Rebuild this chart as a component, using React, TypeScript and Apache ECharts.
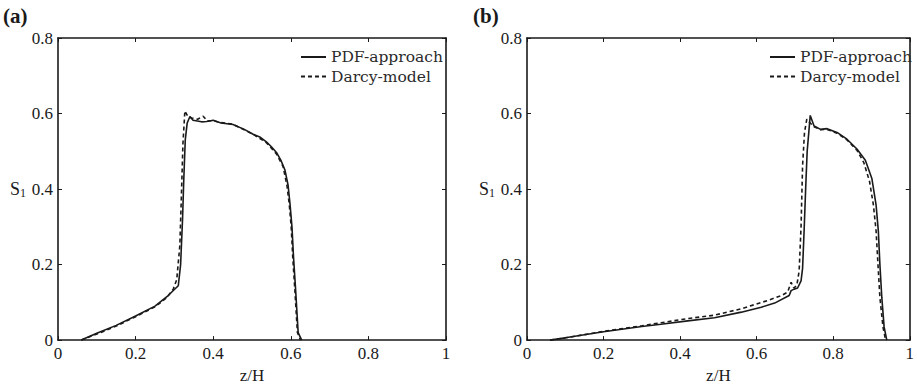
import React, { useEffect, useRef } from "react";
import * as echarts from "echarts";

// Panel (a)
const aPdfX = [0.06, 0.10, 0.15, 0.20, 0.25, 0.284, 0.31, 0.316, 0.321, 0.324, 0.328, 0.333, 0.34, 0.348, 0.37, 0.383, 0.40, 0.42, 0.451, 0.48, 0.503, 0.52, 0.537, 0.55, 0.563, 0.575, 0.585, 0.593, 0.598, 0.603, 0.607, 0.612, 0.619, 0.628];
const aPdfY = [0, 0.018, 0.039, 0.064, 0.09, 0.118, 0.144, 0.2, 0.32, 0.42, 0.53, 0.575, 0.592, 0.582, 0.578, 0.579, 0.582, 0.575, 0.571, 0.558, 0.545, 0.538, 0.525, 0.512, 0.497, 0.475, 0.45, 0.41, 0.36, 0.3, 0.22, 0.14, 0.02, 0];
const aDarcyX = [0.06, 0.10, 0.15, 0.20, 0.25, 0.28, 0.297, 0.306, 0.314, 0.318, 0.322, 0.327, 0.335, 0.345, 0.36, 0.374, 0.385, 0.40, 0.42, 0.45, 0.48, 0.503, 0.537, 0.563, 0.58, 0.59, 0.596, 0.601, 0.605, 0.61, 0.617, 0.625];
const aDarcyY = [0, 0.016, 0.037, 0.062, 0.088, 0.112, 0.135, 0.16, 0.25, 0.38, 0.52, 0.607, 0.592, 0.588, 0.585, 0.593, 0.58, 0.581, 0.576, 0.572, 0.557, 0.545, 0.523, 0.493, 0.46, 0.41, 0.36, 0.3, 0.22, 0.14, 0.02, 0];

// Panel (b)
const bPdfX = [0.06, 0.10, 0.20, 0.30, 0.35, 0.42, 0.49, 0.56, 0.612, 0.647, 0.685, 0.69, 0.698, 0.707, 0.716, 0.72, 0.724, 0.728, 0.732, 0.74, 0.75, 0.767, 0.784, 0.81, 0.836, 0.862, 0.884, 0.901, 0.912, 0.918, 0.922, 0.927, 0.933, 0.94];
const bPdfY = [0, 0.006, 0.022, 0.036, 0.042, 0.051, 0.059, 0.074, 0.087, 0.098, 0.118, 0.131, 0.135, 0.138, 0.157, 0.19, 0.29, 0.4, 0.5, 0.595, 0.567, 0.558, 0.56, 0.55, 0.532, 0.506, 0.476, 0.428, 0.358, 0.288, 0.2, 0.113, 0.035, 0];
const bDarcyX = [0.06, 0.10, 0.20, 0.30, 0.35, 0.42, 0.49, 0.56, 0.629, 0.665, 0.681, 0.69, 0.697, 0.705, 0.711, 0.716, 0.72, 0.725, 0.731, 0.74, 0.75, 0.767, 0.784, 0.81, 0.836, 0.862, 0.88, 0.895, 0.905, 0.912, 0.917, 0.922, 0.93, 0.937];
const bDarcyY = [0, 0.006, 0.023, 0.038, 0.046, 0.057, 0.066, 0.083, 0.105, 0.118, 0.127, 0.153, 0.138, 0.145, 0.183, 0.3, 0.462, 0.55, 0.585, 0.575, 0.565, 0.557, 0.558, 0.548, 0.53, 0.503, 0.47, 0.42, 0.358, 0.29, 0.2, 0.113, 0.035, 0];

const seriesNames = ["PDF-approach", "Darcy-model"];
const panelLabels = ["(a)", "(b)"];
const xAxisTitle = "z/H";

const zip = (xs: number[], ys: number[]) => xs.map((x, i) => [x, ys[i]]);

const SERIF = "'Liberation Serif', 'Times New Roman', serif";
const LEG_FONT = "'DejaVu Serif', serif";
const INK = "#1a1a1a";

export default function App() {
  const ref = useRef<HTMLDivElement>(null);
  useEffect(() => {
    const chart = echarts.init(ref.current!, null, { renderer: "svg" });
    const grids = [
      { left: 58, top: 38, width: 388, height: 305 },
      { left: 527, top: 38, width: 387, height: 305 },
    ];
    const xAxes: any[] = [];
    const yAxes: any[] = [];
    grids.forEach((_, gi) => {
      const common = {
        gridIndex: gi,
        type: "value",
        min: 0,
        splitLine: { show: false },
        axisLine: { show: true, onZero: false, lineStyle: { color: INK, width: 1.6 } },
        axisTick: { show: true, inside: true, length: 4, lineStyle: { color: INK, width: 1 } },
      };
      xAxes.push({
        ...common,
        max: 1,
        interval: 0.2,
        position: "bottom",
        axisLabel: { color: INK, fontFamily: SERIF, fontSize: 17, margin: 5 },
        name: xAxisTitle,
        nameLocation: "middle",
        nameGap: 26,
        nameTextStyle: { color: INK, fontFamily: SERIF, fontSize: 17 },
      });
      xAxes.push({ ...common, max: 1, interval: 0.2, position: "top", axisLabel: { show: false } });
      yAxes.push({
        ...common,
        max: 0.8,
        interval: 0.2,
        position: "left",
        axisLabel: { color: INK, fontFamily: SERIF, fontSize: 17, margin: 5 },
        name: "{s|S}{sub|1}",
        nameLocation: "middle",
        nameRotate: 0,
        nameGap: 32,
        nameTextStyle: {
          rich: {
            s: { color: INK, fontFamily: SERIF, fontSize: 18 },
            sub: { color: INK, fontFamily: SERIF, fontSize: 12, padding: [8, 0, 0, 0] },
          },
        },
      });
      yAxes.push({ ...common, max: 0.8, interval: 0.2, position: "right", axisLabel: { show: false } });
    });

    const mk = (name: string, data: number[][], gi: number, dashed: boolean) => ({
      type: "line",
      name,
      xAxisIndex: gi * 2,
      yAxisIndex: gi * 2,
      data,
      showSymbol: false,
      symbol: "none",
      lineStyle: { color: INK, width: 1.6, type: dashed ? [4, 3] : "solid" },
      itemStyle: { color: INK },
    });

    const legendCfg = (left: number) => ({
      data: seriesNames,
      orient: "vertical",
      left,
      top: 44,
      itemWidth: 25,
      itemHeight: 14,
      itemGap: 3.5,
      selectedMode: false,
      itemStyle: { opacity: 0 },
      textStyle: { color: "#2a2a2a", fontFamily: LEG_FONT, fontSize: 15.5 },
    });

    chart.setOption({
      animation: false,
      backgroundColor: "#fff",
      grid: grids,
      xAxis: xAxes,
      yAxis: yAxes,
      legend: [legendCfg(295), legendCfg(764)],
      graphic: [
        { type: "text", left: 3, top: 5, style: { text: panelLabels[0], font: `bold 21px ${SERIF}`, fill: INK } },
        { type: "text", left: 473, top: 5, style: { text: panelLabels[1], font: `bold 21px ${SERIF}`, fill: INK } },
      ],
      series: [
        mk(seriesNames[0], zip(aPdfX, aPdfY), 0, false),
        mk(seriesNames[1], zip(aDarcyX, aDarcyY), 0, true),
        mk(seriesNames[0], zip(bPdfX, bPdfY), 1, false),
        mk(seriesNames[1], zip(bDarcyX, bDarcyY), 1, true),
      ],
    });
    return () => chart.dispose();
  }, []);
  return (
    <div
      ref={ref}
      style={{ position: "fixed", left: 0, top: 0, width: 917, height: 389, background: "#fff" }}
    />
  );
}
